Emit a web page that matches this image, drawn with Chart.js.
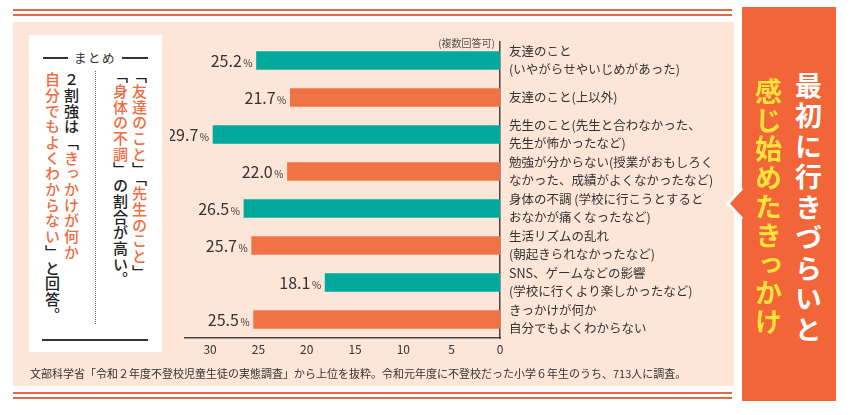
<!DOCTYPE html>
<html lang="ja">
<head>
<meta charset="utf-8">
<script src="https://cdn.jsdelivr.net/npm/chart.js@4.4.1/dist/chart.umd.min.js"></script>
<style>
  html, body { margin:0; padding:0; background:#fff; width:860px; height:415px; overflow:hidden; }
  body { position:relative; font-family:"Noto Sans CJK JP","Noto Sans",sans-serif; color:#333; }
  .abs { position:absolute; }
  .hline { position:absolute; height:2px; background:#e06a48; }
  .peach { left:13px; top:22px; width:721px; height:364px; background:#fde5d8; }
  .whitebox { left:29px; top:35px; width:133px; height:317px; background:#fff; }
  .vt { position:absolute; writing-mode:vertical-rl; font-size:15px; line-height:16px; letter-spacing:0.7px; font-weight:500; color:#222; white-space:nowrap; }
  .or { color:#ef6c3f; }
  .title { position:absolute; writing-mode:vertical-rl; font-size:27px; line-height:30px; font-weight:700; white-space:nowrap; }
  #wrap { position:absolute; left:170px; top:30px; width:565px; height:340px; }
</style>
</head>
<body>
<div class="hline" style="left:13px; top:9px; width:719px;"></div>
<div class="hline" style="left:13px; top:14px; width:719px;"></div>
<div class="abs peach"></div>
<div class="hline" style="left:13px; top:392px; width:719px;"></div>
<div class="hline" style="left:13px; top:397px; width:719px;"></div>

<div class="abs whitebox"></div>
<div class="abs" style="left:43px; top:57px; width:25px; height:1.5px; background:#333;"></div>
<div class="abs" style="left:122px; top:57px; width:26px; height:1.5px; background:#333;"></div>
<div class="abs" style="left:70px; top:48px; width:50px; text-align:center; font-size:12.5px; letter-spacing:1.5px; color:#333;">まとめ</div>
<div class="abs" style="left:42px; top:339px; width:106px; height:1.5px; background:#333;"></div>
<div class="abs" style="left:94.5px; top:71px; width:0; height:253px; border-left:1.5px dotted #666;"></div>

<div class="vt" style="left:131px; top:68px;">「<span class="or">友達のこと</span>」「<span class="or">先生のこと</span>」</div>
<div class="vt" style="left:112px; top:68px;">「<span class="or">身体の不調</span>」の割合が高い。</div>
<div class="vt" style="left:63px; top:72px;">２割強は「<span class="or">きっかけが何か</span></div>
<div class="vt" style="left:44px; top:72px;"><span class="or">自分でもよくわからない</span>」と回答。</div>

<div id="wrap"><canvas id="c" width="565" height="340"></canvas></div>

<div class="abs" style="left:30px; top:365px; font-size:11px; color:#333; white-space:nowrap;">文部科学省「令和２年度不登校児童生徒の実態調査」から上位を抜粋。令和元年度に不登校だった小学６年生のうち、713人に調査。</div>

<div class="abs" style="left:742px; top:7px; width:94px; height:394px; background:#f26538;"></div>
<svg class="abs" style="left:720px; top:180px;" width="30" height="48">
  <polygon points="24,9 8,23.5 24,38" fill="#f26538"/>
  <polyline points="22,8 8,23.5 22,39" fill="none" stroke="#fff" stroke-width="3" stroke-linejoin="miter"/>
  <polygon points="23,10 10.5,23.5 23,37 26,37 26,10" fill="#f26538"/>
</svg>
<div class="title" style="left:793px; top:72px; color:#fff; letter-spacing:3.5px;">最初に行きづらいと</div>
<div class="title" style="left:753px; top:78px; color:#ffe23a; letter-spacing:1.8px;">感じ始めたきっかけ</div>

<script>
const categories = [
  ["友達のこと", "(いやがらせやいじめがあった)"],
  "友達のこと(上以外)",
  ["先生のこと(先生と合わなかった、", "先生が怖かったなど)"],
  ["勉強が分からない(授業がおもしろく", "なかった、成績がよくなかったなど)"],
  ["身体の不調 (学校に行こうとすると", "おなかが痛くなったなど)"],
  ["生活リズムの乱れ", "(朝起きられなかったなど)"],
  ["SNS、ゲームなどの影響", "(学校に行くより楽しかったなど)"],
  ["きっかけが何か", "自分でもよくわからない"]
];
const values = [25.2, 21.7, 29.7, 22.0, 26.5, 25.7, 18.1, 25.5];
const xTicks = [0, 5, 10, 15, 20, 25, 30];
const noteText = "(複数回答可)";

const TEAL = "#00a99b", ORANGE = "#f07346";
const FONT = "'Noto Sans CJK JP','Noto Sans',sans-serif";

const valueLabels = {
  id: "valueLabels",
  afterDatasetsDraw(chart) {
    const ctx = chart.ctx;
    const meta = chart.getDatasetMeta(0);
    ctx.save();
    ctx.fillStyle = "#333";
    ctx.textBaseline = "alphabetic";
    ctx.textAlign = "right";
    meta.data.forEach((bar, i) => {
      const xEnd = bar.x;
      const y = bar.y + 6.5;
      ctx.font = "10px " + FONT;
      const pct = "%";
      const pw = ctx.measureText(pct).width;
      ctx.fillText(pct, xEnd - 4, y);
      ctx.font = "16px " + FONT;
      ctx.fillText(values[i].toFixed(1), xEnd - 4 - pw - 1.5, y);
    });
    const ca = chart.chartArea;
    ctx.font = "10px " + FONT;
    ctx.fillStyle = "#555";
    ctx.textBaseline = "middle";
    ctx.fillText(noteText, ca.right - 5, ca.top + 1);
    ctx.restore();
  }
};

new Chart(document.getElementById("c"), {
  type: "bar",
  data: {
    labels: categories,
    datasets: [{
      data: values,
      backgroundColor: values.map((v, i) => i % 2 === 0 ? TEAL : ORANGE),
      borderWidth: 0,
      barThickness: 18
    }]
  },
  options: {
    indexAxis: "y",
    responsive: false,
    animation: false,
    devicePixelRatio: 1,
    layout: { padding: { top: 12, left: 15, right: 0, bottom: 0 } },
    plugins: { legend: { display: false }, tooltip: { enabled: false } },
    scales: {
      x: {
        type: "linear",
        reverse: true,
        min: 0,
        max: 32.6,
        grid: { display: false, drawTicks: false },
        border: { display: true, color: "#444", width: 1.5 },
        ticks: { includeBounds: false, autoSkip: false, maxRotation: 0, padding: 4, color: "#333", font: { family: FONT, size: 12 } },
        afterBuildTicks(scale) { scale.ticks = xTicks.map(v => ({ value: v })); },
        afterFit(scale) { scale.height = 32; scale.paddingLeft = 0; scale.paddingRight = 0; }
      },
      y: {
        position: "right",
        grid: { display: false, drawTicks: false },
        border: { display: true, color: "#444", width: 1.5 },
        ticks: { autoSkip: false, padding: 9, color: "#333", font: { family: FONT, size: 12.5, lineHeight: 1.45 } },
        afterFit(scale) { scale.width = 235; scale.paddingTop = 0; scale.paddingBottom = 0; }
      }
    }
  },
  plugins: [valueLabels]
});
</script>
</body>
</html>
